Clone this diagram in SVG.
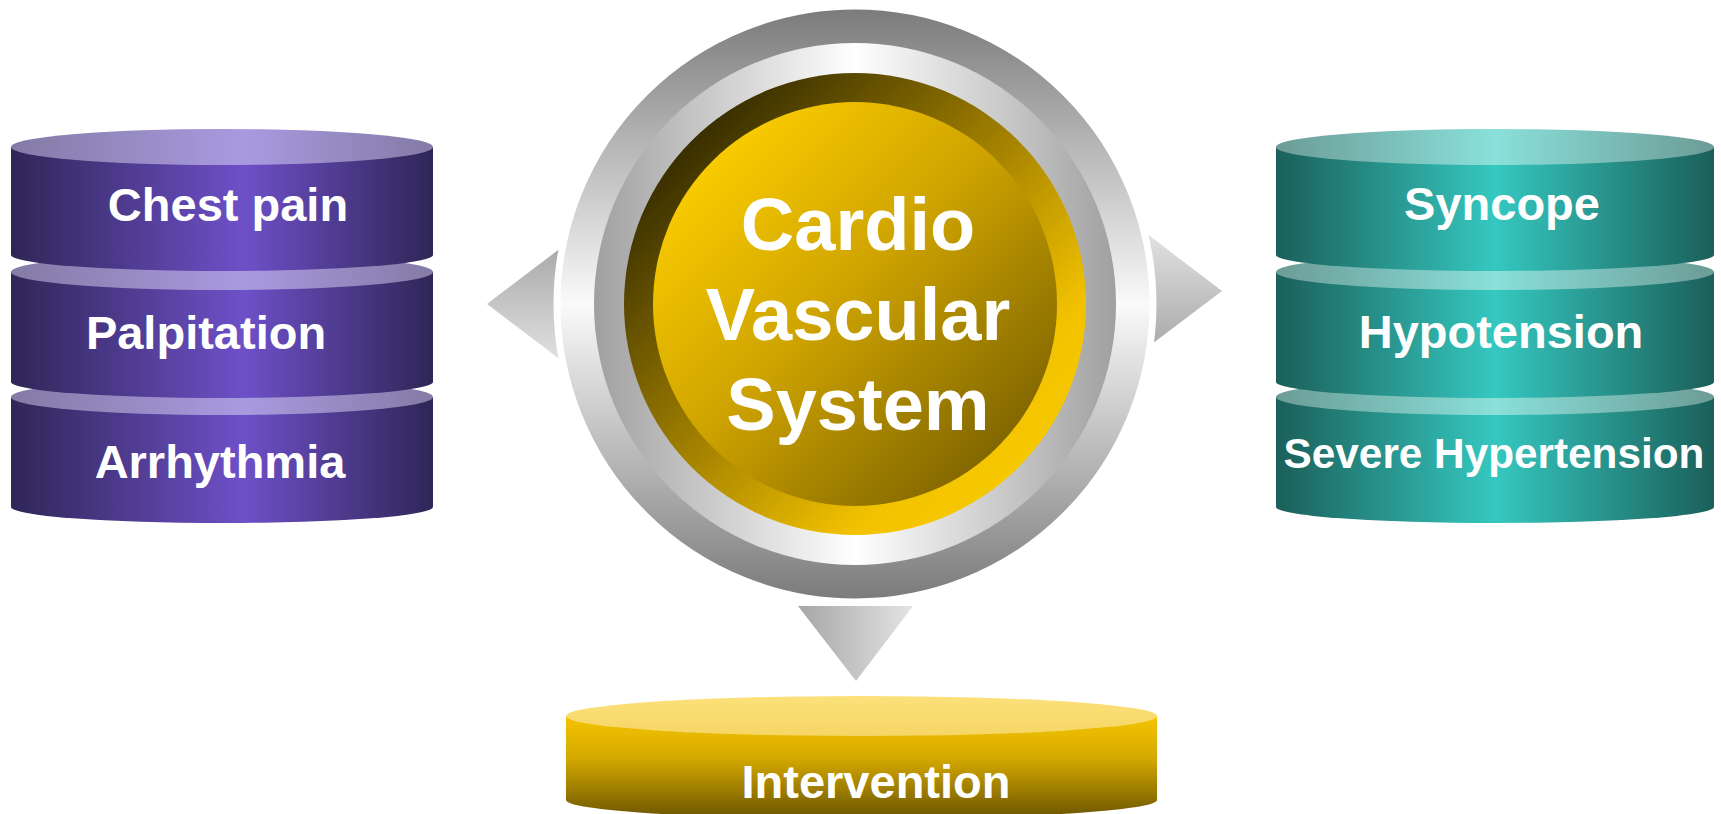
<svg xmlns="http://www.w3.org/2000/svg" width="1721" height="814" viewBox="0 0 1721 814">
<defs>
<linearGradient id="pBody" x1="0" y1="0" x2="1" y2="0"><stop offset="0" stop-color="#2f2657"/><stop offset="0.55" stop-color="#6e50c8"/><stop offset="1" stop-color="#2f2657"/></linearGradient>
<linearGradient id="pTop" x1="0" y1="0" x2="1" y2="0"><stop offset="0" stop-color="#847ba6"/><stop offset="0.55" stop-color="#a99ae0"/><stop offset="1" stop-color="#847ba6"/></linearGradient>
<linearGradient id="tBody" x1="0" y1="0" x2="1" y2="0"><stop offset="0" stop-color="#1b5f5a"/><stop offset="0.5" stop-color="#35c8c0"/><stop offset="1" stop-color="#1b5f5a"/></linearGradient>
<linearGradient id="tTop" x1="0" y1="0" x2="1" y2="0"><stop offset="0" stop-color="#6c9c97"/><stop offset="0.5" stop-color="#8ae0da"/><stop offset="1" stop-color="#6c9c97"/></linearGradient>
<linearGradient id="yBody" x1="0" y1="0" x2="0" y2="1"><stop offset="0" stop-color="#f4c400"/><stop offset="0.4" stop-color="#d6aa00"/><stop offset="1" stop-color="#6a5400"/></linearGradient>
<linearGradient id="yTop" x1="0" y1="0" x2="0" y2="1"><stop offset="0" stop-color="#fce07a"/><stop offset="1" stop-color="#f5d665"/></linearGradient>
<linearGradient id="ringOuter" x1="0" y1="0" x2="0" y2="1"><stop offset="0" stop-color="#7a7a7a"/><stop offset="0.5" stop-color="#fafafa"/><stop offset="1" stop-color="#7a7a7a"/></linearGradient>
<linearGradient id="ringInner" x1="0" y1="0" x2="1" y2="0"><stop offset="0" stop-color="#a0a0a0"/><stop offset="0.5" stop-color="#ffffff"/><stop offset="1" stop-color="#a0a0a0"/></linearGradient>
<linearGradient id="goldRing" x1="0.15" y1="0.15" x2="0.85" y2="0.85"><stop offset="0" stop-color="#3a3000"/><stop offset="0.5" stop-color="#a88500"/><stop offset="0.85" stop-color="#f2c200"/><stop offset="1" stop-color="#f6c800"/></linearGradient>
<linearGradient id="goldDisk" x1="0.15" y1="0.15" x2="0.85" y2="0.85"><stop offset="0" stop-color="#f8ca00"/><stop offset="0.45" stop-color="#cfa400"/><stop offset="1" stop-color="#836800"/></linearGradient>
<linearGradient id="arrowL" x1="0" y1="0" x2="0" y2="1"><stop offset="0" stop-color="#a6a6a6"/><stop offset="1" stop-color="#e4e4e4"/></linearGradient>
<linearGradient id="arrowR" x1="0" y1="0" x2="0" y2="1"><stop offset="0" stop-color="#e4e4e4"/><stop offset="1" stop-color="#a6a6a6"/></linearGradient>
<linearGradient id="arrowD" x1="0" y1="0" x2="1" y2="0"><stop offset="0" stop-color="#a6a6a6"/><stop offset="1" stop-color="#e4e4e4"/></linearGradient>
</defs>
<style>
.lbl{font-family:"Liberation Sans",Arial,sans-serif;font-weight:bold;fill:#ffffff;text-anchor:middle}
.side{font-size:47px}
.center{font-size:74px}
</style>
<rect width="1721" height="814" fill="#ffffff"/>

<g id="connectors">
<polygon points="487,304 570,241 570,367" fill="url(#arrowL)"/>
<polygon points="1222,291 1140,228.6 1140,353" fill="url(#arrowR)"/>
<polygon points="798,606 913,606 856,681" fill="url(#arrowD)"/>
</g>

<g id="center-node">
<circle cx="855" cy="304" r="298" fill="url(#ringOuter)" stroke="#ffffff" stroke-width="7"/>
<circle cx="855" cy="304" r="261" fill="url(#ringInner)"/>
<circle cx="855" cy="304" r="231" fill="url(#goldRing)"/>
<circle cx="855" cy="304" r="202" fill="url(#goldDisk)"/>
<text class="lbl center" x="858" y="250">Cardio</text>
<text class="lbl center" x="858" y="340">Vascular</text>
<text class="lbl center" x="858" y="430">System</text>
</g>

<g id="left-stack">
<g id="arrhythmia">
<path d="M11,397 L11,507 A211,16 0 0 0 433,507 L433,397 Z" fill="url(#pBody)"/>
<ellipse cx="222" cy="397" rx="211" ry="18" fill="url(#pTop)"/>
<text class="lbl side" x="220" y="478">Arrhythmia</text>
</g>
<g id="palpitation">
<path d="M11,272 L11,382 A211,16 0 0 0 433,382 L433,272 Z" fill="url(#pBody)"/>
<ellipse cx="222" cy="272" rx="211" ry="18" fill="url(#pTop)"/>
<text class="lbl side" x="206" y="349">Palpitation</text>
</g>
<g id="chest-pain">
<path d="M11,147 L11,255 A211,16 0 0 0 433,255 L433,147 Z" fill="url(#pBody)"/>
<ellipse cx="222" cy="147" rx="211" ry="18" fill="url(#pTop)"/>
<text class="lbl side" x="228" y="221">Chest pain</text>
</g>
</g>

<g id="right-stack">
<g id="severe-hypertension">
<path d="M1276,397 L1276,507 A219,16 0 0 0 1714,507 L1714,397 Z" fill="url(#tBody)"/>
<ellipse cx="1495" cy="397" rx="219" ry="18" fill="url(#tTop)"/>
<text class="lbl" style="font-size:42.3px" x="1494" y="468">Severe Hypertension</text>
</g>
<g id="hypotension">
<path d="M1276,272 L1276,382 A219,16 0 0 0 1714,382 L1714,272 Z" fill="url(#tBody)"/>
<ellipse cx="1495" cy="272" rx="219" ry="18" fill="url(#tTop)"/>
<text class="lbl side" x="1501" y="348">Hypotension</text>
</g>
<g id="syncope">
<path d="M1276,147 L1276,255 A219,16 0 0 0 1714,255 L1714,147 Z" fill="url(#tBody)"/>
<ellipse cx="1495" cy="147" rx="219" ry="18" fill="url(#tTop)"/>
<text class="lbl side" x="1502" y="220">Syncope</text>
</g>
</g>

<g id="intervention">
<path d="M566,716 L566,800 A295.5,19 0 0 0 1157,800 L1157,716 Z" fill="url(#yBody)"/>
<ellipse cx="861.5" cy="716" rx="295.5" ry="20" fill="url(#yTop)"/>
<text class="lbl side" x="876" y="798">Intervention</text>
</g>
</svg>
